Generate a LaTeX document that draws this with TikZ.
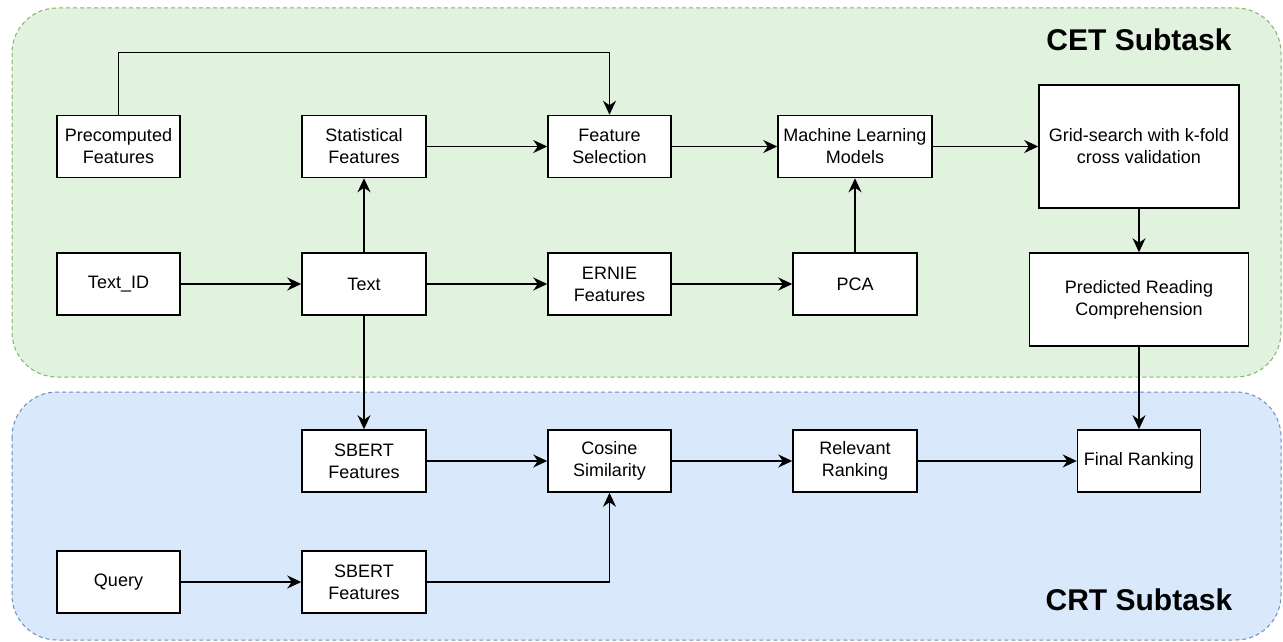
\documentclass[tikz,border=0pt]{standalone}
\usepackage{fontspec}
\setmainfont{Liberation Sans}
\usepackage{tikz}
\usetikzlibrary{arrows.meta, positioning, calc}

\definecolor{cetfill}{RGB}{225,243,223}
\definecolor{cetline}{RGB}{130,179,102}
\definecolor{crtfill}{RGB}{218,232,252}
\definecolor{crtline}{RGB}{108,142,191}

\begin{document}
\begin{tikzpicture}[
    x=1pt, y=-1pt,
    region/.style={rounded corners=45pt, line width=1pt, dash pattern=on 4pt off 3pt},
    blk/.style={draw, fill=white, line width=1.5pt, minimum width=123pt, minimum height=62pt, inner sep=2pt, align=center, font=\fontsize{18}{22}\selectfont},
    arr/.style={line width=1.5pt, -{Stealth[length=14pt, width=13pt, inset=4.5pt]}},
    title/.style={font=\fontsize{30}{36}\selectfont\bfseries},
]
    \useasboundingbox (0,0) rectangle (1283,642);

    \draw[region, fill=cetfill, draw=cetline] (12,8) rectangle (1281,377);
    \draw[region, fill=crtfill, draw=crtline] (12,392) rectangle (1281,640);

    \node[title] (cet) at (1139,40) {CET Subtask};
    \node[title] (crt) at (1139,600) {CRT Subtask};

    \node[blk] (pre) at (118.5,146.5) {Precomputed\\Features};
    \node[blk, minimum width=124pt] (stat) at (364,146.5) {Statistical\\Features};
    \node[blk] (fsel) at (609.5,146.5) {Feature\\Selection};
    \node[blk, minimum width=154pt, inner sep=0pt] (ml) at (855,146.5) {Machine Learning\\Models};
    \node[blk, minimum width=200pt, minimum height=123pt] (grid) at (1139,146.5) {Grid-search with k-fold\\cross validation};

    \node[blk] (tid) at (118.5,284) {Text\_ID};
    \node[blk, minimum width=124pt] (text) at (364,284) {Text};
    \node[blk] (ernie) at (609.5,284) {ERNIE\\Features};
    \node[blk, minimum width=124pt] (pca) at (855,284) {PCA};
    \node[blk, minimum width=219pt, minimum height=93pt] (pred) at (1139,299.5) {Predicted Reading\\Comprehension};

    \node[blk, minimum width=124pt] (sb1) at (364,461) {SBERT\\Features};
    \node[blk] (cos) at (609.5,461) {Cosine\\Similarity};
    \node[blk, minimum width=124pt] (rel) at (855,461) {Relevant\\Ranking};
    \node[blk] (fin) at (1139,461) {Final Ranking};

    \node[blk] (query) at (118.5,582) {Query};
    \node[blk, minimum width=124pt] (sb2) at (364,582) {SBERT\\Features};

    \draw[arr] (pre.north) -- ++(0,-62) -| (fsel.north);
    \draw[arr] (stat) -- (fsel);
    \draw[arr] (fsel) -- (ml);
    \draw[arr] (ml) -- (grid);
    \draw[arr] (grid) -- (pred);

    \draw[arr] (tid) -- (text);
    \draw[arr] (text) -- (stat);
    \draw[arr] (text) -- (ernie);
    \draw[arr] (ernie) -- (pca);
    \draw[arr] (pca) -- (ml);

    \draw[arr] (text) -- (sb1);
    \draw[arr] (sb1) -- (cos);
    \draw[arr] (cos) -- (rel);
    \draw[arr] (rel) -- (fin);
    \draw[arr] (pred) -- (fin);
    \draw[arr] (query) -- (sb2);
    \draw[arr] (sb2) -| (cos.south);
\end{tikzpicture}
\end{document}
